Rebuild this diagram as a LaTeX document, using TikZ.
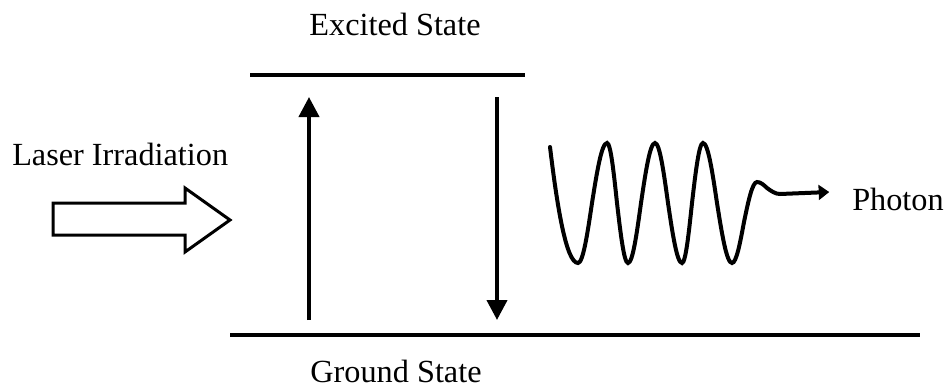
\documentclass[tikz,border=0pt]{standalone}
\usepackage{fontspec}
\setmainfont{Liberation Serif}
\usetikzlibrary{arrows.meta}
\begin{document}
\begin{tikzpicture}[x=0.75pt,y=-0.75pt,font=\fontsize{24.2}{29}\selectfont,
  level/.style={line width=3pt},
  trans/.style={line width=3pt,-{Triangle[length=15pt,width=15pt]}},
  wave/.style={line width=3pt,line cap=round,-{Triangle[length=8pt,width=11pt]}},
  lbl/.style={inner sep=0pt}]
\useasboundingbox (0,0) rectangle (947,387);
% energy levels
\coordinate (exc-l) at (250,75);  \coordinate (exc-r) at (525,75);
\coordinate (gnd-l) at (230,335); \coordinate (gnd-r) at (920,335);
\draw[level] (exc-l) -- (exc-r);
\draw[level] (gnd-l) -- (gnd-r);
\node[lbl,anchor=base] (excited) at (395,35) {Excited State};
\node[lbl,anchor=base] (ground) at (396,382) {Ground State};
% absorption and emission
\coordinate (abs-s) at (309,320); \coordinate (abs-e) at (309,97);
\coordinate (emi-s) at (497,97);  \coordinate (emi-e) at (497,320);
\draw[trans] (abs-s) -- (abs-e);
\draw[trans] (emi-s) -- (emi-e);
% laser
\node[lbl,anchor=base west] (laser) at (12,165) {Laser Irradiation};
\draw[line width=2.25pt,line join=miter] (53,203) -- (185,203) -- (185,188) -- (230,220)
  -- (185,252) -- (185,235) -- (53,235) -- cycle;
% photon
\node[lbl,anchor=base west] (photon) at (852,210) {Photon};
\coordinate (ph-tip) at ([xshift=-17pt]photon.base west |- 0,192);
\draw[wave] (550,147) .. controls (557,205) and (566,263) .. (578,263)
  cos (592,203) sin (607,143) cos (617,203) sin (628,263)
  cos (641,203) sin (655,143) cos (668,203) sin (682,263)
  cos (692,203) sin (703,143) cos (717,203) sin (732,263)
  cos (744,222) sin (757,182) cos (767,188) sin (780,194) -- (ph-tip);
\end{tikzpicture}
\end{document}
